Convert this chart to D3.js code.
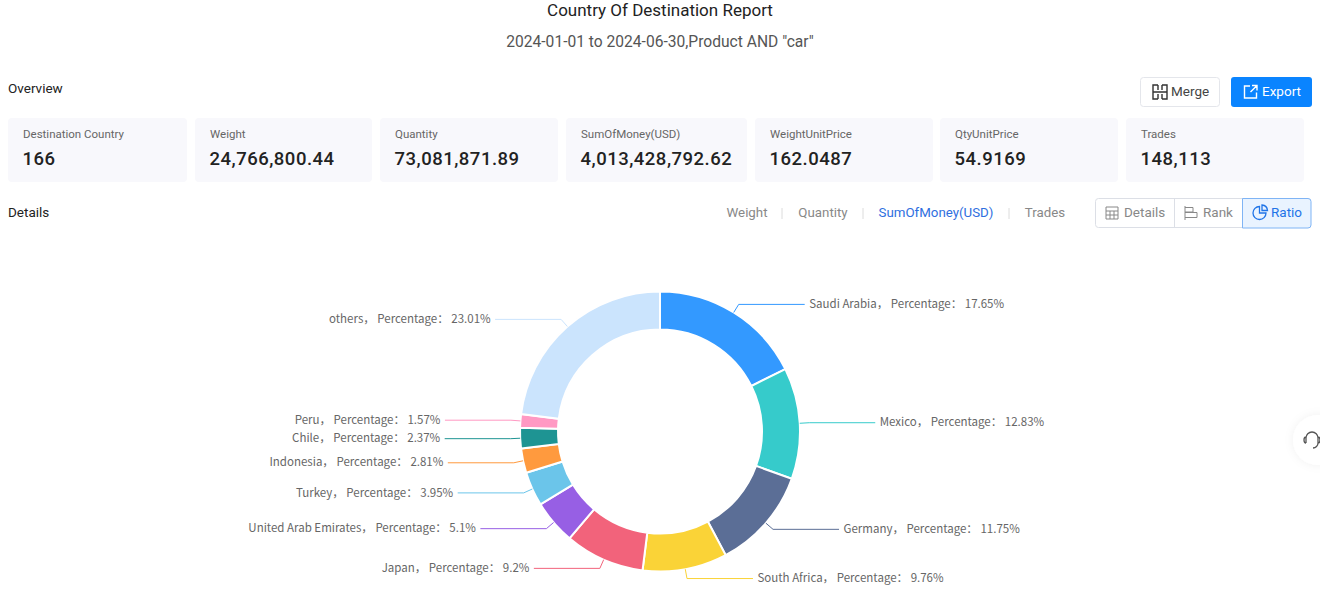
<!DOCTYPE html>
<html>
<head>
<meta charset="utf-8">
<script src="https://cdn.jsdelivr.net/npm/d3@7"></script>
<style>
  html, body { margin: 0; padding: 0; background: #fff; overflow: hidden; }
  text { font-family: Roboto, sans-serif; }
</style>
</head>
<body>
<div id="chart"></div>
<script>
// datos
const countries = ["Saudi Arabia", "Mexico", "Germany", "South Africa", "Japan", "United Arab Emirates", "Turkey", "Indonesia", "Chile", "Peru", "others"];
const percentages = [17.65, 12.83, 11.75, 9.76, 9.2, 5.1, 3.95, 2.81, 2.37, 1.57, 23.01];
const sliceColors = ["#3399ff", "#36cbcb", "#5b6e96", "#fad337", "#f2637b", "#975fe4", "#6bc5ea", "#ff9a3e", "#1e9493", "#ff99c3", "#cbe4fd"];

const cardLabels = ["Destination Country", "Weight", "Quantity", "SumOfMoney(USD)", "WeightUnitPrice", "QtyUnitPrice", "Trades"];
const cardValues = ["166", "24,766,800.44", "73,081,871.89", "4,013,428,792.62", "162.0487", "54.9169", "148,113"];
const metricTabs = ["Weight", "Quantity", "SumOfMoney(USD)", "Trades"];
const viewTabs = ["Details", "Rank", "Ratio"];

// layout de la pagina
const cardLeft = [8, 195, 380, 566, 755, 940, 1126];
const cardRight = [187, 372, 558, 747, 933, 1118, 1304];
const tabCenter = [747, 823, 936, 1045];
const tabSeparator = [782, 863, 1009];
const viewLeft = [1095, 1174, 1242];

const svg = d3.select("#chart").append("svg").attr("width", 1320).attr("height", 589);

function label(x, y, str, size, color, anchor, weight) {
  return svg.append("text").attr("x", x).attr("y", y)
    .attr("dominant-baseline", "middle")
    .attr("text-anchor", anchor || "start")
    .attr("font-size", size).attr("fill", color)
    .attr("font-weight", weight || 400)
    .text(str);
}

// titulos
label(660, 12, "Country Of Destination Report", 17, "#222", "middle");
label(660, 42.5, "2024-01-01 to 2024-06-30,Product AND \"car\"", 15.6, "#555", "middle");
label(8, 89, "Overview", 13.5, "#222");
label(8, 213, "Details", 13.5, "#222");

// botones
svg.append("rect").attr("x", 1140.5).attr("y", 77.5).attr("width", 79).attr("height", 29).attr("rx", 3)
  .attr("fill", "#fff").attr("stroke", "#e4e6eb");
label(1171, 92.5, "Merge", 13.5, "#444");
svg.append("path").attr("d", "M1158 85H1153V92M1153 92V99H1158M1162 85H1167V92M1167 92V99H1162M1153 92H1167M1158 85V90M1162 85V90M1158 94V99M1162 94V99")
  .attr("fill", "none").attr("stroke", "#333").attr("stroke-width", 1.4);
svg.append("rect").attr("x", 1231).attr("y", 77).attr("width", 81).attr("height", 30).attr("rx", 3).attr("fill", "#0a84ff");
label(1262, 92.5, "Export", 13.5, "#fff");
svg.append("path").attr("d", "M1250 86H1244.5V98H1256.5V92.5M1252 85.5H1257V90.5M1257 85.5L1250.5 92")
  .attr("fill", "none").attr("stroke", "#fff").attr("stroke-width", 1.4);

// tarjetas
cardLabels.forEach((d, i) => {
  svg.append("rect").attr("x", cardLeft[i]).attr("y", 118).attr("width", cardRight[i] - cardLeft[i]).attr("height", 64)
    .attr("rx", 4).attr("fill", "#f8f8fc");
  label(cardLeft[i] + 15, 135, d, 11.5, "#666");
  label(cardLeft[i] + 14.5, 160.5, cardValues[i], 18.5, "#222", "start", 500).attr("letter-spacing", 0.5);
});

// pestanas
metricTabs.forEach((d, i) => {
  label(tabCenter[i], 213.5, d, 13.3, i == 2 ? "#2f6fe0" : "#888", "middle");
});
tabSeparator.forEach(x => {
  svg.append("line").attr("x1", x).attr("x2", x).attr("y1", 208).attr("y2", 219).attr("stroke", "#dcdcdc");
});

svg.append("rect").attr("x", 1095.5).attr("y", 198.5).attr("width", 215).attr("height", 29).attr("rx", 3)
  .attr("fill", "#fff").attr("stroke", "#dcdfe6");
svg.append("line").attr("x1", 1174.5).attr("x2", 1174.5).attr("y1", 198).attr("y2", 228).attr("stroke", "#dcdfe6");
svg.append("path").attr("d", "M1242.5 198.5H1308a3 3 0 0 1 3 3V225a3 3 0 0 1 -3 3H1242.5Z")
  .attr("fill", "#e9f3ff").attr("stroke", "#7fb4f5");
viewTabs.forEach((d, i) => {
  label(viewLeft[i] + 29, 213.5, d, 13.5, i == 2 ? "#1f74e8" : "#888");
});
svg.append("path").attr("d", "M1106 207H1118V219H1106ZM1106 211H1118M1106 215H1118M1110 211V219M1114 211V219")
  .attr("fill", "none").attr("stroke", "#888");
svg.append("path").attr("d", "M1185 206V220M1185 207.5H1193V212H1185M1185 212.5H1197V217.5H1185")
  .attr("fill", "none").attr("stroke", "#888");
svg.append("path").attr("d", "M1259.5 206.500a6.500 6.500 0 1 0 6.500 6.500H1259.500ZM1262 205a6 6 0 0 1 5.500 5.500H1262Z")
  .attr("fill", "none").attr("stroke", "#1f74e8").attr("stroke-width", 1.3);

// dona
const cx = 660, cy = 431.5, outer = 140, inner = 102, elbowR = 149.5, tail = 66;
const rows = countries.map((c, i) => ({name: c, value: percentages[i], color: sliceColors[i]}));
const pie = d3.pie().value(d => d.value).sort(null);
const arc = d3.arc().innerRadius(inner).outerRadius(outer);
const arcs = pie(rows);

const g = svg.append("g").attr("transform", `translate(${cx},${cy})`);
g.selectAll("path.slice").data(arcs).join("path")
  .attr("class", "slice")
  .attr("d", arc)
  .attr("fill", d => d.data.color)
  .attr("stroke", "#fff")
  .attr("stroke-width", 2);

const radial = d3.line();
arcs.forEach(d => {
  const a = (d.startAngle + d.endAngle) / 2;
  const sx = Math.sin(a), sy = -Math.cos(a);
  const side = sx >= 0 ? 1 : -1;
  const ex = elbowR * sx, ey = elbowR * sy;
  const endX = ex + side * tail;
  g.append("path")
    .attr("d", radial([[outer * sx, outer * sy], [ex, ey], [endX, ey]]))
    .attr("fill", "none").attr("stroke", d.data.color).attr("stroke-width", 1);
  g.append("text")
    .attr("x", endX + side * 4.5).attr("y", ey + 0.5)
    .attr("dominant-baseline", "middle")
    .attr("text-anchor", side > 0 ? "start" : "end")
    .attr("font-size", 11.5).attr("fill", "#666")
    .style("font-family", "'Noto Sans CJK SC', sans-serif")
    .text(`${d.data.name}， Percentage： ${d.data.value}%`);
});

// boton de soporte
const defs = svg.append("defs");
const blur = defs.append("filter").attr("id", "soft").attr("x", "-50%").attr("y", "-50%").attr("width", "200%").attr("height", "200%");
blur.append("feDropShadow").attr("dx", 0).attr("dy", 0).attr("stdDeviation", 5).attr("flood-color", "#000").attr("flood-opacity", 0.06);
svg.append("circle").attr("cx", 1318).attr("cy", 440).attr("r", 25).attr("fill", "#fff").attr("filter", "url(#soft)");
svg.append("path").attr("d", "M1306 443V438a6 6 0 0 1 12 0V443M1318 443a5 5 0 0 1 -5 5M1306 437a2 3 0 0 0 0 6M1318 437a2 3 0 0 1 0 6")
  .attr("fill", "none").attr("stroke", "#555").attr("stroke-width", 1.3);
</script>
</body>
</html>
